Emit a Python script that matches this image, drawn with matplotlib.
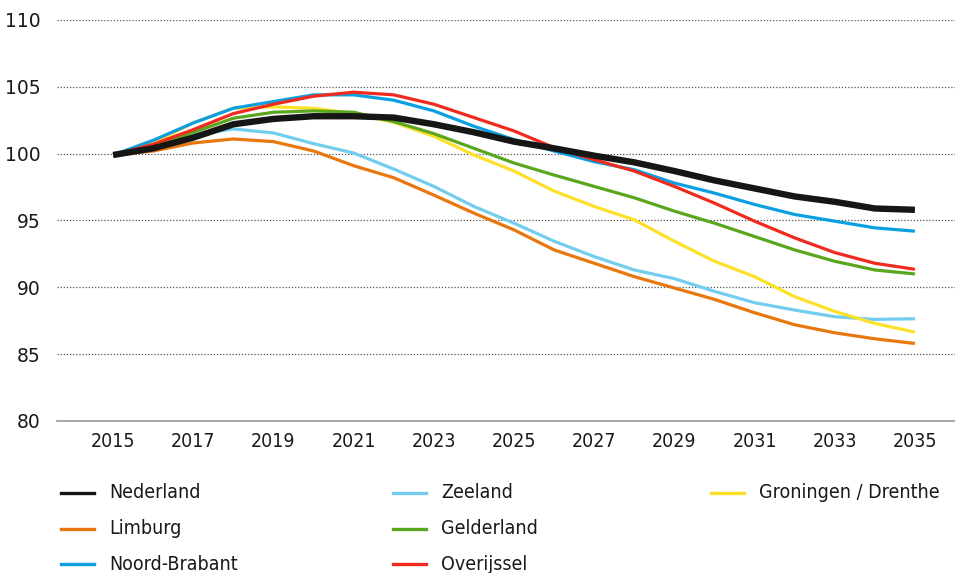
import matplotlib
matplotlib.use("Agg")
import matplotlib.pyplot as plt
from matplotlib.lines import Line2D

years = list(range(2015, 2036))

nederland = [99.9, 100.4, 101.2, 102.2, 102.6, 102.8, 102.8, 102.7, 102.2, 101.6, 100.9,
             100.4, 99.85, 99.35, 98.7, 98.0, 97.4, 96.8, 96.4, 95.9, 95.8]
zeeland = [99.9, 100.5, 101.4, 101.85, 101.55, 100.75, 100.05, 98.85, 97.55, 96.05, 94.8,
           93.45, 92.3, 91.3, 90.65, 89.7, 88.85, 88.3, 87.8, 87.6, 87.65]
groningen = [99.9, 100.8, 102.3, 103.4, 103.5, 103.4, 103.0, 102.35, 101.3, 99.9, 98.7,
             97.2, 96.05, 95.05, 93.45, 91.95, 90.8, 89.3, 88.2, 87.3, 86.65]
limburg = [99.9, 100.2, 100.8, 101.1, 100.9, 100.2, 99.1, 98.2, 96.9, 95.55, 94.3,
           92.8, 91.8, 90.8, 89.95, 89.1, 88.1, 87.2, 86.6, 86.15, 85.8]
gelderland = [99.9, 100.5, 101.6, 102.65, 103.1, 103.2, 103.1, 102.4, 101.5, 100.4, 99.3,
              98.4, 97.55, 96.7, 95.7, 94.8, 93.8, 92.8, 91.95, 91.3, 91.0]
noord_brabant = [99.9, 101.0, 102.3, 103.4, 103.9, 104.4, 104.4, 104.0, 103.2, 102.05, 101.05,
                 100.2, 99.4, 98.8, 97.8, 97.05, 96.2, 95.45, 94.95, 94.45, 94.2]
overijssel = [99.9, 100.7, 101.8, 103.0, 103.7, 104.3, 104.6, 104.4, 103.7, 102.7, 101.7,
              100.45, 99.55, 98.7, 97.55, 96.3, 94.95, 93.7, 92.6, 91.8, 91.35]

labels = ["Nederland", "Limburg", "Noord-Brabant", "Zeeland", "Gelderland", "Overijssel",
          "Groningen / Drenthe"]
series = [nederland, limburg, noord_brabant, zeeland, gelderland, overijssel, groningen]
colors = ["#161614", "#e8770e", "#0a9fe0", "#72cdee", "#5aa61e", "#f02a1e", "#fde02a"]

xticks = list(range(2015, 2036, 2))
yticks = [80, 85, 90, 95, 100, 105, 110]

plt.rcParams['font.family'] = ['DejaVu Sans']
cond = dict(family=['DejaVu Sans'], stretch='condensed')

W, H = 955, 573
fig = plt.figure(figsize=(W / 100, H / 100), dpi=100)
ax = fig.add_axes([57 / W, 1 - 421 / H, 1 - 57 / W, (421 - 20) / H])

draw_order = [3, 1, 6, 4, 2, 5, 0]
for i in draw_order:
    lw = 4.6 if i == 0 else 2.3
    ax.plot(years, series[i], color=colors[i], lw=lw, solid_capstyle='butt',
            zorder=5 if i == 0 else 3)

ax.set_xlim(2013.6, 2036.0)
ax.set_ylim(80, 110)
ax.set_xticks(xticks)
ax.set_yticks(yticks)
ax.tick_params(axis='both', length=0, colors='#1a1a1a')
ax.tick_params(axis='x', pad=8)
ax.tick_params(axis='y', pad=12)
for t in ax.get_xticklabels():
    t.set_fontfamily(['DejaVu Sans'])
    t.set_fontstretch('condensed')
    t.set_fontsize(14)
for t in ax.get_yticklabels():
    t.set_fontfamily(['DejaVu Sans'])
    t.set_fontsize(13.5)

for y in yticks[1:]:
    ax.axhline(y, color='#555555', lw=0.9, ls=(0, (1, 1.5)), zorder=1)

for s in ['top', 'right', 'left']:
    ax.spines[s].set_visible(False)
ax.spines['bottom'].set_color('#999999')
ax.spines['bottom'].set_linewidth(1.2)

# Legend: 3 columns, filled column-wise (3, 3, 1)
col_x = [61, 393, 711]
row_y = [492.5, 528.5, 564]
positions = [(0, 0), (0, 1), (0, 2), (1, 0), (1, 1), (1, 2), (2, 0)]
for i, (c, r) in enumerate(positions):
    x0 = col_x[c]
    y0 = 1 - row_y[r] / H
    fig.add_artist(Line2D([x0 / W, (x0 + 33) / W], [y0, y0], color=colors[i], lw=2.4,
                          transform=fig.transFigure))
    fig.text((x0 + 48) / W, y0, labels[i], fontsize=14, va='center', ha='left',
             color='#1a1a1a', **cond)

fig.savefig("out.png", dpi=100)
